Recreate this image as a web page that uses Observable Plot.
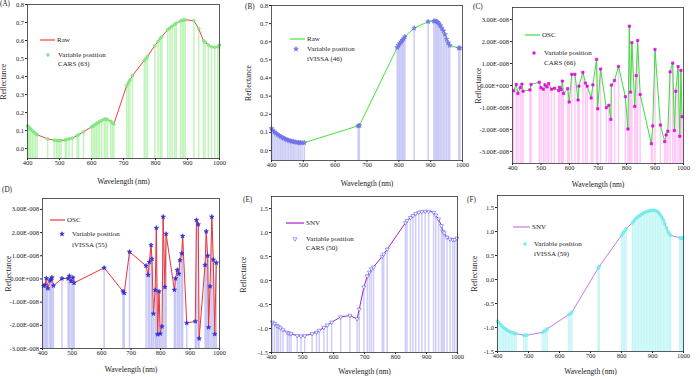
<!DOCTYPE html>
<html><head><meta charset="utf-8">
<script src="https://cdn.jsdelivr.net/npm/d3@7"></script>
<script src="https://cdn.jsdelivr.net/npm/@observablehq/plot@0.6"></script>
<style>
body{margin:0;background:#fff;}
#root{position:relative;width:700px;height:377px;overflow:hidden;background:#fff;}
#root svg{position:absolute;font-family:"Liberation Serif","Times New Roman",serif !important;}
g[aria-label="x-axis label"], g[aria-label="y-axis label"]{font-size:7.6px;}
</style></head>
<body><div id="root"></div>
<script>
// ---------- data ----------
const xTicks = [400, 500, 600, 700, 800, 900, 1000];
const reflTicks = [0, 0.1, 0.2, 0.3, 0.4, 0.5, 0.6, 0.7, 0.8];
const oscTicks = [-3, -2, -1, 0, 1, 2, 3]; // units of 1e-8
const snvTicks = [-1.5, -1.0, -0.5, 0, 0.5, 1.0, 1.5];

// (A) Raw + CARS (63)
const aWl = [400,403,406,410,415,420,425,430,463,483,490,495,500,505,518,522,530,540,555,560,575,600,605,610,615,620,625,632,640,645,650,660,665,670,710,715,720,728,765,770,775,798,808,815,820,838,845,852,860,865,878,883,888,893,920,935,950,955,965,975,985,995,1000];
const aVal = [0.126,0.12,0.115,0.108,0.1,0.092,0.085,0.077,0.054,0.047,0.045,0.044,0.044,0.045,0.048,0.05,0.054,0.058,0.072,0.078,0.093,0.12,0.126,0.132,0.138,0.144,0.15,0.156,0.163,0.164,0.161,0.152,0.143,0.137,0.35,0.365,0.38,0.405,0.49,0.5,0.512,0.572,0.595,0.612,0.622,0.66,0.67,0.68,0.69,0.697,0.708,0.712,0.714,0.715,0.71,0.665,0.6,0.59,0.575,0.565,0.562,0.565,0.575];

// (B) Raw + iVISSA (46)
const bWl = [400,404,409,414,419,424,429,434,439,444,449,454,459,464,469,474,480,485,490,496,503,672,676,795,799,803,807,811,815,819,848,892,910,914,918,922,926,930,935,940,945,950,955,960,988,992];
const bVal = [0.122,0.11,0.102,0.095,0.088,0.082,0.077,0.072,0.067,0.063,0.059,0.056,0.053,0.051,0.049,0.047,0.045,0.044,0.043,0.043,0.043,0.136,0.138,0.568,0.58,0.59,0.6,0.608,0.617,0.628,0.675,0.711,0.714,0.714,0.712,0.708,0.7,0.69,0.675,0.66,0.64,0.615,0.595,0.58,0.565,0.566];

// (C) OSC + CARS (66), values in 1E-008
const cWl = [404,413,419,427,433,437,461,465,494,500,508,514,521,527,537,547,562,565,571,575,579,594,599,608,619,630,633,647,656,662,676,682,695,699,709,729,738,745,747,758,772,796,805,810,814,819,829,834,839,848,887,892,900,919,934,939,945,953,962,968,973,981,987,991,995];
const cVal = [-0.24,0.05,-0.36,-0.1,0.06,-0.26,-0.2,0.05,0.15,-0.1,-0.17,0.03,-0.06,0.09,-0.17,-0.12,-0.23,-0.08,-0.18,0.2,-0.36,-0.14,-0.75,0.51,0.51,-0.66,-0.03,0.6,0.11,-0.03,-0.57,0.03,1.19,-1.06,0.75,-1.01,-0.9,-1.54,0.02,0.23,0.87,-0.51,-1.98,2.7,-0.3,1.95,-0.95,0.45,2.05,-0.41,-2.65,-1.84,1.64,-1.8,-2.55,-2.25,-2.08,0.62,1.02,-2.05,-0.26,0.86,-2.31,0.69,-1.42];

// (D) OSC + iVISSA (55), values in 1E-008
const dWl = [404,409,413,418,425,428,432,437,466,487,491,497,503,507,609,673,677,695,751,758,762,768,771,776,782,786,790,795,799,805,809,815,819,847,851,857,862,866,872,875,889,918,922,928,931,951,955,960,963,968,974,979,984,989];
const dVal = [-0.3,-0.26,0.03,-0.41,-0.07,-0.02,0.06,-0.29,0.02,0.02,0.13,-0.1,0.06,-0.17,0.48,-0.54,-0.61,1.17,0.57,0.17,0.73,1.46,0.86,-1.5,-0.48,2.2,-2.39,-0.54,-2.36,-2.05,2.68,-0.35,1.94,-0.47,0.02,0.39,0.22,0.81,1.1,1.85,-1.9,-1.83,2.54,2.35,-2.57,0.6,2.05,1.0,-2.09,-0.32,2.68,0.83,-2.38,0.7];

// (E) SNV + CARS (50)
const eWl = [403,410,417,422,429,437,451,457,463,483,495,507,531,545,554,569,580,594,623,653,676,683,698,709,716,722,729,757,762,773,832,837,848,856,865,875,885,896,907,923,930,939,948,953,957,966,976,985,991,998];
const eVal = [-0.87,-0.9,-0.94,-0.96,-0.99,-1.03,-1.08,-1.1,-1.11,-1.15,-1.16,-1.15,-1.11,-1.08,-1.04,-0.98,-0.93,-0.87,-0.76,-0.73,-0.8,-0.6,-0.14,0.09,0.17,0.24,0.28,0.5,0.55,0.65,1.2,1.25,1.31,1.35,1.39,1.42,1.43,1.44,1.44,1.42,1.36,1.28,1.14,1.02,0.99,0.9,0.86,0.85,0.85,0.88];

// (F) SNV + iVISSA (59)
const fWl = [400,405,410,415,420,425,430,435,440,445,450,455,460,485,490,495,545,550,555,560,630,635,640,725,728,800,805,810,815,835,840,845,850,855,860,865,870,875,880,885,890,895,900,905,910,915,920,925,930,935,940,945,950,955,958,988,992,995,998];
const fVal = [-0.87,-0.9,-0.94,-0.97,-1.0,-1.03,-1.05,-1.07,-1.09,-1.1,-1.11,-1.12,-1.13,-1.16,-1.16,-1.16,-1.1,-1.08,-1.06,-1.03,-0.73,-0.71,-0.68,0.24,0.27,0.92,0.97,1.01,1.06,1.18,1.22,1.26,1.29,1.32,1.34,1.36,1.38,1.4,1.41,1.42,1.43,1.44,1.44,1.44,1.43,1.42,1.39,1.35,1.3,1.24,1.16,1.08,1.0,0.95,0.92,0.87,0.86,0.86,0.87];

const seriesNames = ["Raw", "Raw", "OSC", "OSC", "SNV", "SNV"];
const methodNames = ["CARS (63)", "iVISSA (46)", "CARS (66)", "iVISSA (55)", "CARS (50)", "iVISSA (59)"];
const panelLetters = ["(A)", "(B)", "(C)", "(D)", "(E)", "(F)"];

// ---------- drawing ----------
const FONT = '"Liberation Serif", "Times New Roman", serif';
const fmt1 = d => d.toFixed(1);
const fmtOsc = d => (d < 0 ? "-" : "") + Math.abs(d).toFixed(2) + (d === 0 ? "E+000" : "E-008");

const panels = [
  {wl: aWl, val: aVal, left: 0, top: 0, w: 228, h: 188, m: [4, 9, 30, 27], yDomain: [-0.055, 0.8], yTicks: reflTicks, fmt: fmt1,
   line: "#ff3b3b", bar: "#a6f09c", sym: "circle", dotFill: "#8cf08c", dotStroke: "#72dc72", r: 1.4, rot: 0, xlo: 25, ylo: 27,
   lg: {lx: [40, 55], ly: 40, mx: 48, my: 55, tx: 58, t2y: 64}, letter: [0, 4]},
  {wl: bWl, val: bVal, left: 228, top: 0, w: 238, h: 188, m: [5, 4, 28, 43], yDomain: [-0.055, 0.8], yTicks: reflTicks, fmt: fmt1,
   line: "#3ee83e", bar: "#b6b6f2", sym: "star", dotFill: "#7c7cf2", dotStroke: "#6a6ae6", r: 1.5, rot: 0, xlo: 25, ylo: 26,
   lg: {lx: [290, 305], ly: 39, mx: 296, my: 49, tx: 307, t2y: 59}, letter: [245, 7]},
  {wl: cWl, val: cVal, left: 466, top: 0, w: 234, h: 188, m: [7, 17, 25, 46], yDomain: [-3.55, 3.55], yTicks: oscTicks, fmt: fmtOsc,
   line: "#3edc3e", bar: "#ffb4f4", sym: "square", dotFill: "#ee10ee", dotStroke: "#dd00dd", r: 1.3, rot: 0, xlo: 23, ylo: 37,
   lg: {lx: [525, 540], ly: 35, mx: 534, my: 53, tx: 544, t2y: 63}, letter: [473, 7]},
  {wl: dWl, val: dVal, left: 0, top: 188, w: 228, h: 189, m: [10, 9, 29, 42], yDomain: [-3.0, 3.47], yTicks: oscTicks, fmt: fmtOsc,
   line: "#ee3434", bar: "#b4b4f2", sym: "star", dotFill: "#3434e0", dotStroke: "#2a2ad0", r: 1.4, rot: 0, xlo: 23, ylo: 37,
   lg: {lx: [50, 65], ly: 220, mx: 62, my: 234, tx: 72, t2y: 245}, letter: [2, 190]},
  {wl: eWl, val: eVal, left: 228, top: 188, w: 238, h: 189, m: [8, 9, 25, 43], yDomain: [-1.5, 1.75], yTicks: snvTicks, fmt: fmt1,
   line: "#a81ec8", bar: "#b8b8f4", sym: "triangle", dotFill: "white", dotStroke: "#5c5cee", r: 1.5, rot: 180, xlo: 21, ylo: 31,
   lg: {lx: [286, 304], ly: 223, mx: 295, my: 239, tx: 306, t2y: 248}, letter: [243, 200]},
  {wl: fWl, val: fVal, left: 466, top: 188, w: 234, h: 189, m: [7, 17, 26, 31], yDomain: [-1.5, 1.75], yTicks: snvTicks, fmt: fmt1,
   line: "#c47ae6", bar: "#b0f4f4", sym: "circle", dotFill: "#7ef0f0", dotStroke: "#66e6e6", r: 1.4, rot: 0, xlo: 22, ylo: 26,
   lg: {lx: [513, 530], ly: 227, mx: 525, my: 244, tx: 534, t2y: 254}, letter: [467, 200]}
];

const root = document.getElementById("root");

panels.forEach((p, i) => {
  const rows = p.wl.map((w, k) => ({w, v: p.val[k]}));
  const chart = Plot.plot({
    width: p.w, height: p.h,
    marginTop: p.m[0], marginRight: p.m[1], marginBottom: p.m[2], marginLeft: p.m[3],
    style: {fontFamily: FONT, fontSize: "6.5px", background: "transparent", overflow: "visible", color: "#222"},
    x: {domain: [400, 1000], ticks: xTicks, tickSize: 2, tickPadding: 0, tickFormat: d => String(d),
        label: "Wavelength (nm)", labelAnchor: "center", labelArrow: "none", labelOffset: p.xlo},
    y: {domain: p.yDomain, ticks: p.yTicks, tickFormat: p.fmt, tickSize: 2, tickPadding: 1.5,
        label: "Reflectance", labelAnchor: "center", labelArrow: "none", labelOffset: p.ylo},
    marks: [
      Plot.ruleX(rows, {x: "w", y1: p.yDomain[0], y2: "v", stroke: p.bar, strokeWidth: 1.5, strokeOpacity: 0.7}),
      Plot.line(rows, {x: "w", y: "v", stroke: p.line, strokeWidth: 1}),
      Plot.dot(rows, {x: "w", y: "v", symbol: p.sym, r: p.r, fill: p.dotFill, stroke: p.dotStroke, strokeWidth: 0.6, rotate: p.rot}),
      Plot.frame({stroke: "#333", strokeWidth: 0.8})
    ]
  });
  chart.style.position = "absolute";
  chart.style.left = p.left + "px";
  chart.style.top = p.top + "px";
  root.appendChild(chart);
});

// overlay: panel letters and legends
const ov = d3.select(root).append("svg")
  .attr("width", 700).attr("height", 377)
  .style("left", "0px").style("top", "0px").style("pointer-events", "none")
  .style("font-size", "7px").style("fill", "#222");

const symMap = {circle: d3.symbolCircle, star: d3.symbolStar, square: d3.symbolSquare, triangle: d3.symbolTriangle};

panels.forEach((p, i) => {
  ov.append("text").attr("x", p.letter[0]).attr("y", p.letter[1]).attr("dominant-baseline", "central")
    .style("font-size", "7.2px").text(panelLetters[i]);
  const g = ov.append("g");
  g.append("line").attr("x1", p.lg.lx[0]).attr("x2", p.lg.lx[1]).attr("y1", p.lg.ly).attr("y2", p.lg.ly)
    .attr("stroke", p.line).attr("stroke-width", 1.2);
  g.append("text").attr("x", p.lg.lx[1] + 2).attr("y", p.lg.ly).attr("dominant-baseline", "central").text(seriesNames[i]);
  const area = Math.PI * p.r * p.r;
  g.append("path").attr("d", d3.symbol(symMap[p.sym], area)())
    .attr("transform", `translate(${p.lg.mx},${p.lg.my}) rotate(${p.rot})`)
    .attr("fill", p.dotFill).attr("stroke", p.dotStroke).attr("stroke-width", 0.6);
  g.append("text").attr("x", p.lg.tx).attr("y", p.lg.my).attr("dominant-baseline", "central").text("Variable position");
  g.append("text").attr("x", p.lg.tx).attr("y", p.lg.t2y).attr("dominant-baseline", "central").text(methodNames[i]);
});
</script>
</body></html>
